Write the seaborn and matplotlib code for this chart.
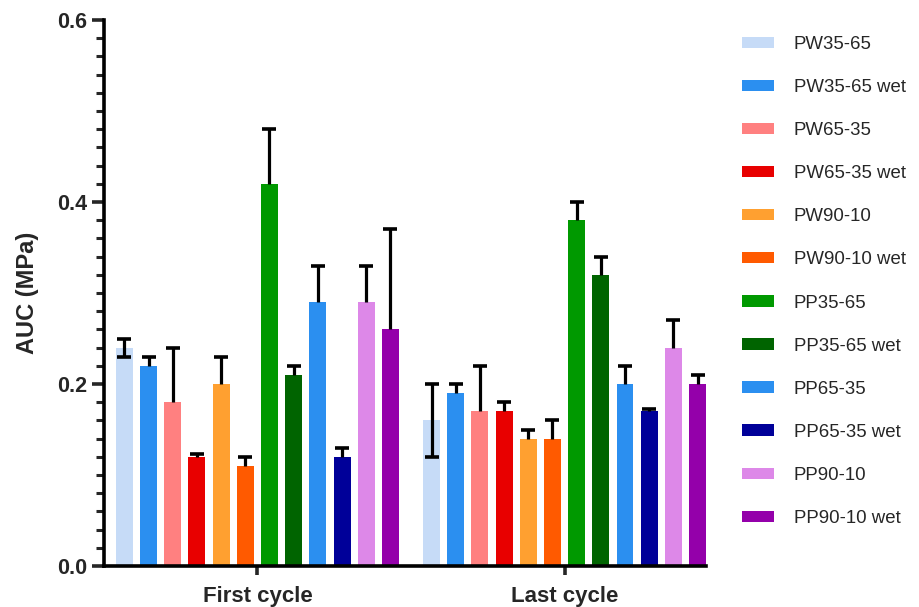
import pandas as pd
import matplotlib
matplotlib.use("Agg")
import matplotlib.pyplot as plt
import matplotlib.ticker as ticker
import seaborn as sns

cycles = ["First cycle", "Last cycle"]
samples = ["PW35-65", "PW35-65 wet", "PW65-35", "PW65-35 wet", "PW90-10", "PW90-10 wet",
           "PP35-65", "PP35-65 wet", "PP65-35", "PP65-35 wet", "PP90-10", "PP90-10 wet"]
colors = ["#c6dbf7", "#2b8ff0", "#ff8080", "#e80000", "#ffa030", "#ff5a00",
          "#009900", "#006400", "#2b8ff0", "#000099", "#dd88e8", "#9400aa"]

auc_first = [0.24, 0.22, 0.18, 0.12, 0.20, 0.11, 0.42, 0.21, 0.29, 0.12, 0.29, 0.26]
auc_last = [0.16, 0.19, 0.17, 0.17, 0.14, 0.14, 0.38, 0.32, 0.20, 0.17, 0.24, 0.20]
# upper error (SD) per bar
err_first = [0.01, 0.01, 0.06, 0.003, 0.03, 0.01, 0.06, 0.01, 0.04, 0.01, 0.04, 0.11]
err_last = [0.04, 0.01, 0.05, 0.01, 0.01, 0.02, 0.02, 0.02, 0.02, 0.003, 0.03, 0.01]
# lower whisker is only visible on the pale bars
low_first = [0.01, 0, 0, 0, 0, 0, 0, 0, 0, 0, 0, 0]
low_last = [0.04, 0, 0, 0, 0, 0, 0, 0, 0, 0, 0, 0]

df = pd.DataFrame({
    "cycle": [cycles[0]] * 12 + [cycles[1]] * 12,
    "sample": samples * 2,
    "auc": auc_first + auc_last,
})

sns.set_style("ticks")
plt.rcParams["font.family"] = ["Liberation Sans", "DejaVu Sans"]

fig = plt.figure(figsize=(9.19, 6.07), dpi=100)
ax = fig.add_axes([0.113, 0.0675, 0.655, 0.8995])

sns.barplot(data=df, x="cycle", y="auc", hue="sample", hue_order=samples,
            palette=dict(zip(samples, colors)), order=cycles,
            width=0.945, gap=0.3, errorbar=None, legend=False,
            saturation=1, linewidth=0, ax=ax)

bar_sets = list(ax.containers)
hi = [err_first, err_last]
lo = [low_first, low_last]
for i, cont in enumerate(bar_sets):
    for j, bar in enumerate(cont.patches):
        x = bar.get_x() + bar.get_width() / 2
        y = bar.get_height()
        top = y + hi[j][i]
        bot = y - lo[j][i]
        ax.plot([x, x], [bot, top], color="black", lw=2.3, zorder=3,
                solid_capstyle="butt")
        ends = [top] if lo[j][i] == 0 else [bot, top]
        ax.plot([x] * len(ends), ends, ls="none", marker="_", ms=9.5,
                mew=2.6, color="black", zorder=3)

ax.set_ylim(0, 0.6)
ax.set_xlim(-0.5, 1.46)
ax.yaxis.set_major_locator(ticker.MultipleLocator(0.2))
ax.yaxis.set_minor_locator(ticker.MultipleLocator(0.02))
ax.yaxis.set_major_formatter(ticker.FormatStrFormatter("%.1f"))

for s in ["top", "right"]:
    ax.spines[s].set_visible(False)
for s in ["left", "bottom"]:
    ax.spines[s].set_linewidth(2.6)
    ax.spines[s].set_color("black")

ax.tick_params(axis="y", which="major", length=9, width=2.6, labelsize=15.5, pad=3)
ax.tick_params(axis="y", which="minor", length=5.5, width=2.2)
ax.tick_params(axis="x", which="major", length=6.5, width=2.6, labelsize=16, pad=8)
for lab in ax.get_xticklabels() + ax.get_yticklabels():
    lab.set_fontweight("bold")

ax.set_xlabel("")
ax.set_ylabel("AUC (MPa)", fontsize=17, fontweight="bold", labelpad=13)

handles = [c.patches[0] for c in bar_sets]
fig.legend(handles, samples, loc="upper left", bbox_to_anchor=(0.789, 0.968),
           frameon=False, fontsize=13.4, labelspacing=1.4, handlelength=1.75,
           handleheight=0.55, handletextpad=1.05)

fig.savefig("out.png", dpi=100)
